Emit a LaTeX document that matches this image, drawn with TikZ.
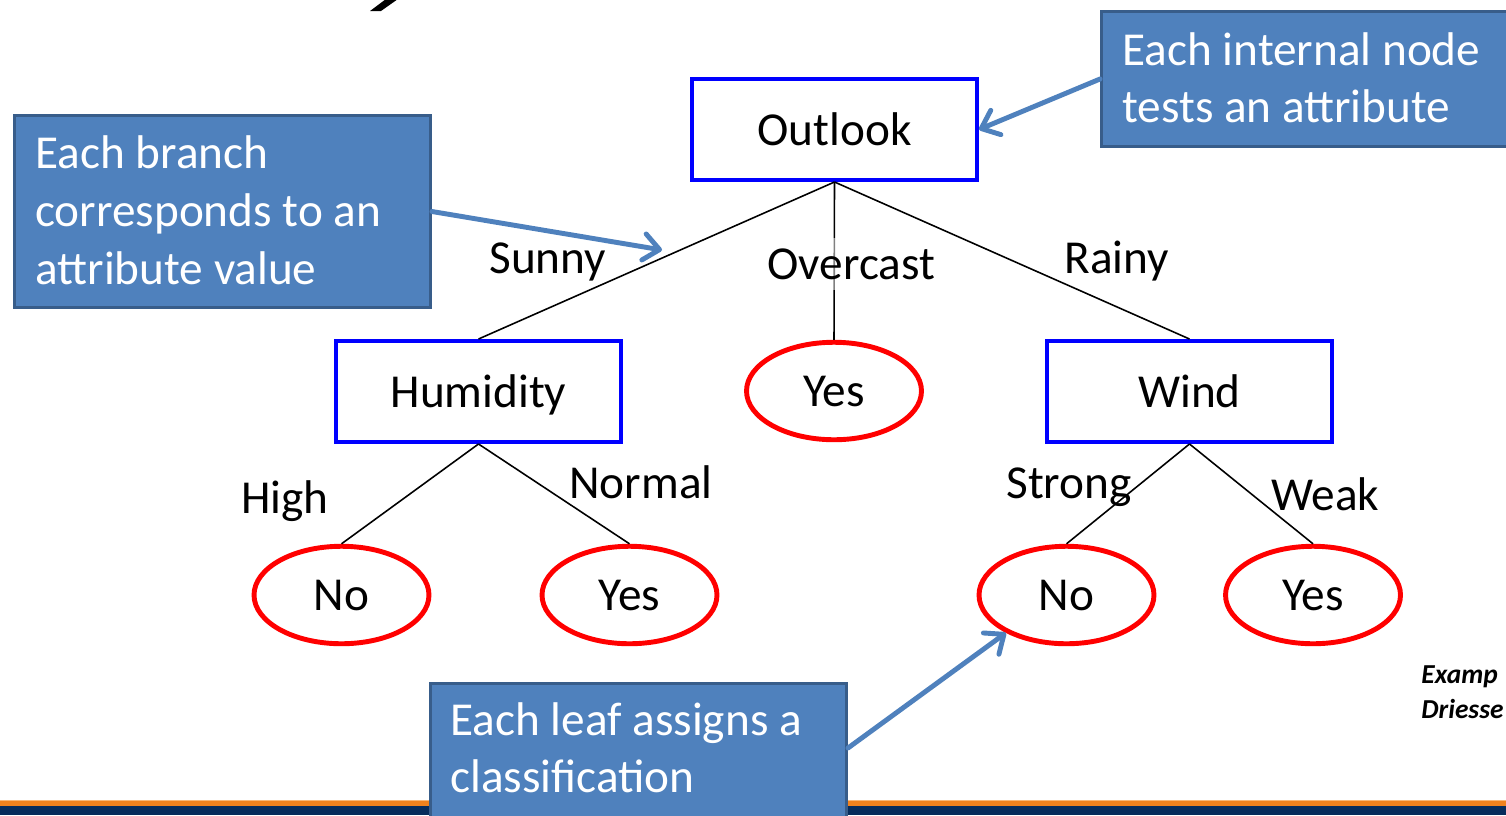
\documentclass[tikz,border=0pt]{standalone}
\usepackage{fontspec}
\setmainfont{Carlito}
\usetikzlibrary{shapes.geometric,arrows.meta,calc}
\definecolor{calfill}{HTML}{4F81BD}
\definecolor{calline}{HTML}{385D8A}
\definecolor{stripeor}{HTML}{F0821E}
\definecolor{stripelight}{HTML}{F8B878}
\definecolor{stripenavy}{HTML}{062C5C}
\begin{document}
\begin{tikzpicture}[x=0.02cm,y=-0.02cm,
  font=\fontsize{26.9}{32.6}\selectfont,
  testbox/.style={draw=blue, line width=2.27pt, rectangle, minimum width=5.7cm, minimum height=2.02cm, inner sep=0pt, text height=17.8pt, text depth=0pt},
  leafnode/.style={draw=red, line width=2.8pt, ellipse, minimum width=3.5cm, minimum height=1.95cm, inner sep=0pt, text height=17.8pt, text depth=0pt},
  branch/.style={draw=black, line width=0.9pt},
  callout/.style={fill=calfill, draw=calline, line width=1.7pt, rectangle, inner sep=0pt},
  calltext/.style={text=white, anchor=base west, inner sep=0pt},
  lbl/.style={anchor=base west, inner sep=0pt},
  pointer/.style={draw=calfill, line width=2.8pt, line cap=round, -{Straight Barb[length=9pt,width=15pt,round]}},
  credit/.style={anchor=base west, inner sep=0pt, font=\fontsize{15.6}{20}\bfseries\itshape}
]
\useasboundingbox (0,0) rectangle (1506,815);

% fragment of the slide title cut by the top edge
\fill[black] (370,11) -- (381,11) -- (398,-1) -- (386,-1) -- cycle;

% bottom stripe
\fill[stripeor] (0,800) rectangle (1506,806);
\fill[stripelight] (0,799.5) rectangle (1506,801);
\fill[stripenavy] (0,806) rectangle (1506,815);

% tree nodes
\node[testbox] (outlook) at (834.5,129.5) {Outlook};
\node[testbox] (humidity) at (478.5,391.5) {Humidity};
\node[leafnode] (yes1) at (834,391) {Yes};
\node[testbox] (wind) at (1189.5,391.5) {Wind};
\node[leafnode] (no1) at (341.5,595) {No};
\node[leafnode] (yes2) at (629.5,595) {Yes};
\node[leafnode] (no2) at (1066.5,595) {No};
\node[leafnode] (yes3) at (1313,595) {Yes};

% branches
\draw[branch] (outlook.south) -- (humidity.north);
\draw[branch] (outlook.south) -- (yes1.north);
\draw[branch] (outlook.south) -- (wind.north);
\draw[branch] (humidity.south) -- (no1.north);
\draw[branch] (humidity.south) -- (yes2.north);
\draw[branch] (wind.south) -- (no2.north);
\draw[branch] (wind.south) -- (yes3.north);

% branch labels
\node[lbl] (lsunny) at (489,273) {Sunny};
\node[lbl, fill=white, fill opacity=0.5, text opacity=1, inner xsep=3pt, inner ysep=6pt] (lover) at (762,279) {Overcast};
\node[lbl] (lrainy) at (1064,273) {Rainy};
\node[lbl] (lhigh) at (241,513) {High};
\node[lbl] (lnormal) at (569,498) {Normal};
\node[lbl] (lstrong) at (1006,498) {Strong};
\node[lbl] (lweak) at (1271,510) {Weak};

% callouts
\node[callout, minimum width=8.32cm, minimum height=3.84cm] (lcall) at (222.5,211.5) {};
\node[calltext] (lc1) at (35,168) {Each branch};
\node[calltext] (lc2) at (35,226) {corresponds to an};
\node[calltext] (lc3) at (35,284) {attribute value};

\node[callout, minimum width=8.34cm, minimum height=2.7cm] (rcall) at (1310,79) {};
\node[calltext] (rc1) at (1122,65) {Each internal node};
\node[calltext] (rc2) at (1122,122) {tests an attribute};

\node[callout, minimum width=8.32cm, minimum height=2.7cm] (bcall) at (638.5,751) {};
\node[calltext] (bc1) at (450,735) {Each leaf assigns a};
\node[calltext] (bc2) at (450,792) {classification};

% pointers
\coordinate (branchpt) at (662,250);
\draw[pointer] (lcall.east) -- (branchpt);
\draw[pointer] (rcall.west) -- (outlook.east);
\draw[pointer] ($(bcall.north east)+(0,66)$) -- (no2.212);

% credit
\node[credit] (cr1) at (1421,683) {Examp};
\node[credit] (cr2) at (1421,718) {Driesse};
\end{tikzpicture}
\end{document}
